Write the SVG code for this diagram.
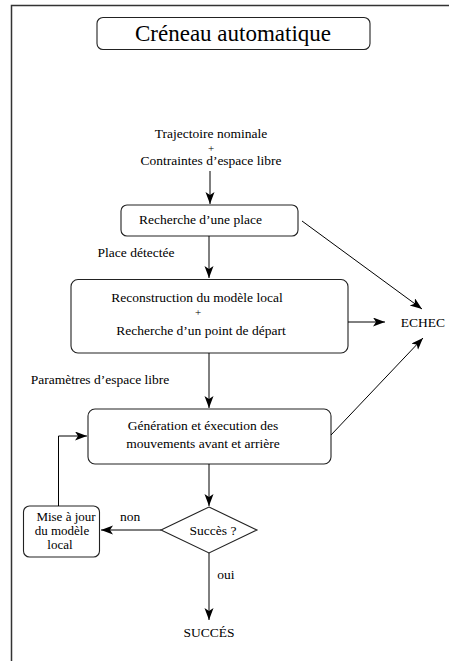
<svg xmlns="http://www.w3.org/2000/svg" width="449" height="661" viewBox="0 0 449 661">
<style>
text{font-family:"Liberation Serif","DejaVu Serif",serif;font-size:13.5px;fill:#000;text-anchor:middle}
.plus{font-size:11px}
.sm{font-size:13px}
.box{fill:#fff;stroke:#222;stroke-width:1.1}
.c{fill:none;stroke:#000;stroke-width:1}
</style>
<defs>
<marker id="ah" markerWidth="13" markerHeight="10" refX="12" refY="4.5" orient="auto" markerUnits="userSpaceOnUse">
<path d="M0,0 L12,4.5 L0,9 L3,4.5 z" fill="#000"/>
</marker>
</defs>
<rect width="449" height="661" fill="#fff"/>
<path d="M11.5,661 V5.5 H449" fill="none" stroke="#333" stroke-width="1.5"/>
<g id="title">
<rect class="box" x="97" y="17.5" width="273" height="32" rx="6"/>
<text x="233" y="41" style="font-size:23px">Créneau automatique</text>
</g>
<g id="input">
<text x="211" y="138">Trajectoire nominale</text>
<text class="plus" x="211" y="152">+</text>
<text x="211" y="165">Contraintes d’espace libre</text>
</g>
<g id="n1">
<rect class="box" x="121" y="205" width="177" height="31" rx="6"/>
<text x="200.5" y="224">Recherche d’une place</text>
</g>
<g id="n2">
<rect class="box" x="71" y="279.5" width="277" height="73.5" rx="7"/>
<text x="197" y="302">Reconstruction du modèle local</text>
<text class="plus" x="198" y="316">+</text>
<text x="201" y="335">Recherche d’un point de départ</text>
</g>
<g id="n3">
<rect class="box" x="88" y="409" width="243" height="55" rx="7"/>
<text x="203" y="430">Génération et éxecution des</text>
<text x="203" y="448">mouvements avant et arrière</text>
</g>
<g id="decision">
<path class="box" d="M209,507 L257,530 L209,553 L161,530 z"/>
<text x="213" y="535">Succès ?</text>
</g>
<g id="update">
<rect class="box" x="23.5" y="506" width="76" height="51" rx="6"/>
<text class="sm" x="66" y="521">Mise à jour</text>
<text class="sm" x="62" y="535">du modèle</text>
<text class="sm" x="60" y="549">local</text>
</g>
<g id="echec"><text x="423" y="327">ECHEC</text></g>
<g id="succes"><text x="209" y="637">SUCCÉS</text></g>
<g id="connectors">
<line class="c" x1="210" y1="171" x2="210" y2="204" marker-end="url(#ah)"/>
<line class="c" x1="209" y1="236" x2="209" y2="278" marker-end="url(#ah)"/>
<line class="c" x1="209" y1="353" x2="209" y2="408" marker-end="url(#ah)"/>
<line class="c" x1="209" y1="464" x2="209" y2="506" marker-end="url(#ah)"/>
<line class="c" x1="209" y1="553" x2="209" y2="620" marker-end="url(#ah)"/>
<line class="c" x1="161" y1="530" x2="101" y2="530" marker-end="url(#ah)"/>
<path class="c" d="M58.5,506 V436 H87" marker-end="url(#ah)"/>
<line class="c" x1="348" y1="322" x2="385" y2="322" marker-end="url(#ah)"/>
<line class="c" x1="302" y1="221" x2="422" y2="309" marker-end="url(#ah)"/>
<line class="c" x1="331" y1="435" x2="423" y2="338" marker-end="url(#ah)"/>
<text x="136" y="257">Place détectée</text>
<text x="100" y="384">Paramètres d’espace libre</text>
<text x="130" y="521">non</text>
<text x="226" y="579">oui</text>
</g>
</svg>
